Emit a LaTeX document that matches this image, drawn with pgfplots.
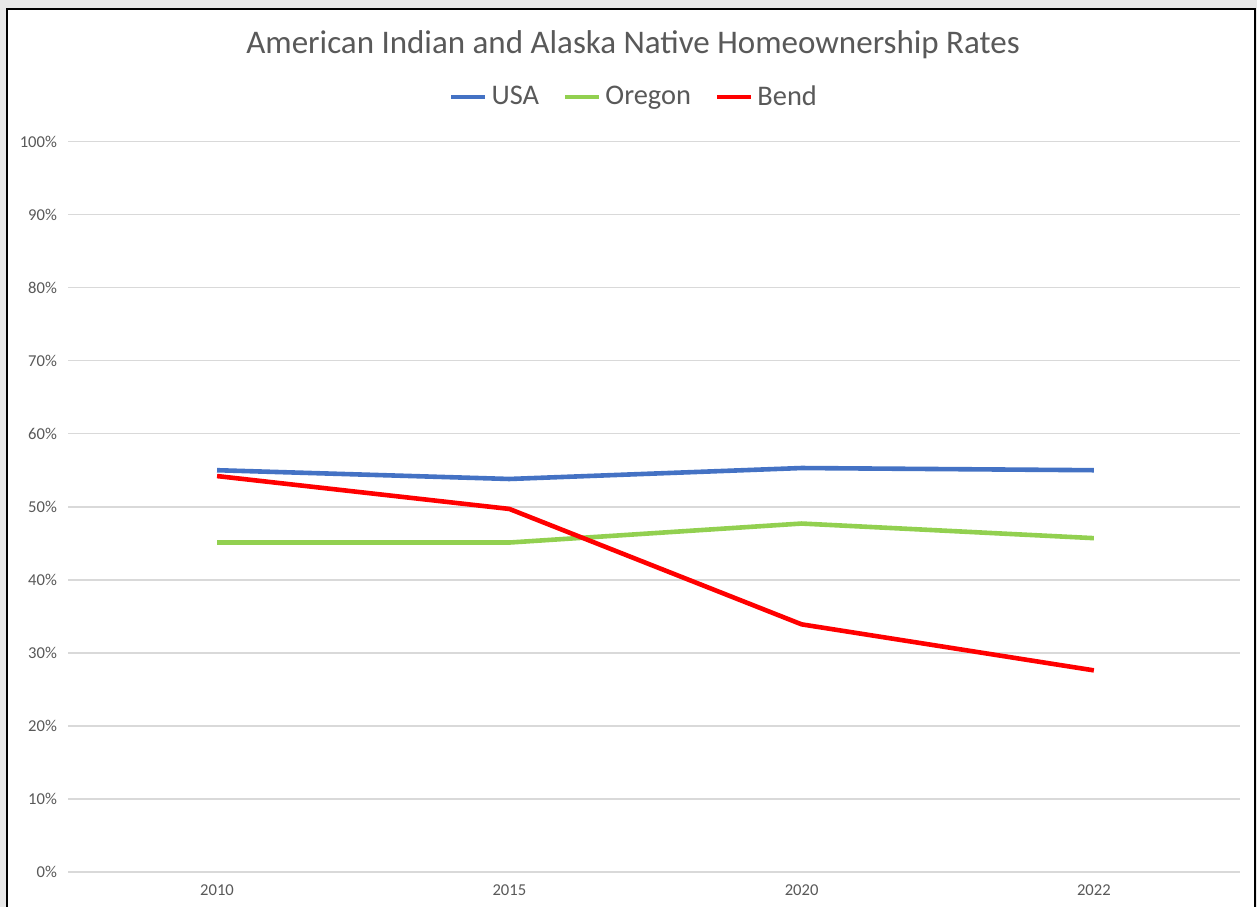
\documentclass[border=0pt]{standalone}
\usepackage{fontspec}
\setmainfont{Carlito}
\usepackage{pgfplots}
\pgfplotsset{compat=1.18}

\definecolor{usablue}{HTML}{4472C4}
\definecolor{oregreen}{HTML}{92D050}
\definecolor{bendred}{HTML}{FF0000}
\definecolor{txtgray}{HTML}{595959}
\definecolor{gridgray}{HTML}{D9D9D9}

\begin{document}
\begin{tikzpicture}
  % frame of the screenshot (1 px = 0.5pt, origin at plot's lower left)
  \fill[gray!18] (-34pt,-17.5pt) rectangle (594.5pt,436pt);
  \fill[white] (-30.5pt,-17.5pt) rectangle (593.5pt,431.5pt);
  \draw[black, line width=1.1pt] (-30.5pt,-17.5pt) -- (-30.5pt,431.5pt) -- (593.5pt,431.5pt) -- (593.5pt,-17.5pt);
  \useasboundingbox (-34pt,-17.5pt) rectangle (594.5pt,436pt);

  \begin{axis}[
      at={(0pt,0pt)}, anchor=south west,
      scale only axis, width=586pt, height=365.25pt,
      xmin=-0.51, xmax=3.5, ymin=0, ymax=100,
      xtick={0,1,2,3}, xticklabels={2010,2015,2020,2022},
      ytick={0,10,...,100},
      yticklabel={\pgfmathprintnumber{\tick}\%},
      /pgf/number format/assume math mode=true,
      axis line style={draw=none}, major tick length=0pt,
      ymajorgrids, grid style={gridgray, line width=0.8pt},
      tick label style={font=\fontsize{8.3}{10}\selectfont, text=txtgray},
      yticklabel style={xshift=-2pt},
      xticklabel style={yshift=-3pt},
      legend columns=3,
      legend style={draw=none, fill=none, at={(0.4838,1.061)}, anchor=center,
        font=\fontsize{14.2}{16}\selectfont, text=txtgray,
        /tikz/every even column/.append style={column sep=10pt}},
      legend image code/.code={\draw[#1, line width=2.2pt] (0pt,0pt) -- (17pt,0pt);},
      every axis plot/.append style={line width=2.3pt, line join=round, no markers},
      clip=false,
    ]
    \addplot[usablue] coordinates {(0,55.0) (1,53.8) (2,55.3) (3,55.0)};
    \addlegendentry{USA}
    \addplot[oregreen] coordinates {(0,45.1) (1,45.1) (2,47.7) (3,45.7)};
    \addlegendentry{Oregon}
    \addplot[bendred] coordinates {(0,54.2) (1,49.7) (2,33.9) (3,27.6)};
    \addlegendentry{Bend}
  \end{axis}

  \node[text=txtgray, font=\fontsize{16.5}{19}\selectfont] at (282.5pt,413.5pt)
    {American Indian and Alaska Native Homeownership Rates};
\end{tikzpicture}
\end{document}
